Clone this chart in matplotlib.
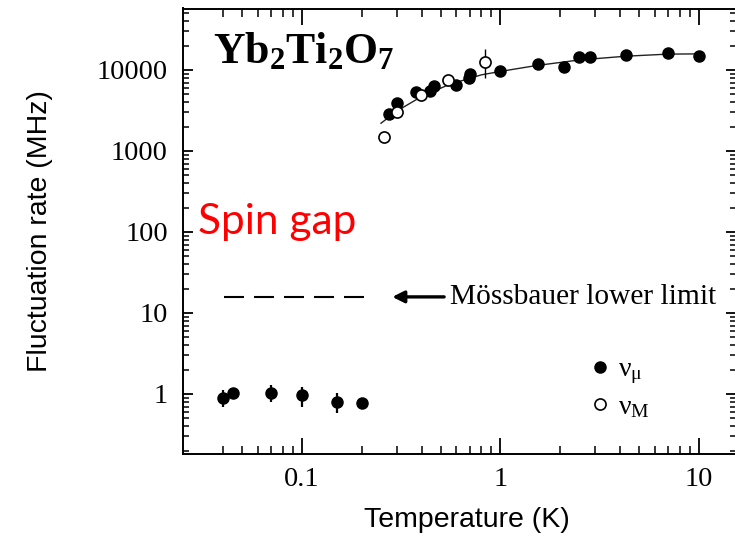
import matplotlib
matplotlib.use("Agg")
import matplotlib.pyplot as plt
from matplotlib.ticker import FixedLocator, NullFormatter
from matplotlib.lines import Line2D

plt.rcParams['mathtext.fontset'] = 'custom'
plt.rcParams['mathtext.rm'] = 'Liberation Serif'
plt.rcParams['mathtext.it'] = 'Liberation Serif:italic'
plt.rcParams['mathtext.bf'] = 'Liberation Serif:bold'

# ---- data ----
# muSR fluctuation rate nu_mu, low temperature (with error bars)
T_low = [0.040, 0.045, 0.070, 0.100, 0.150, 0.200]
nu_low = [0.885, 1.04, 1.04, 0.96, 0.79, 0.78]
nu_low_lo = [0.70, 1.04, 0.79, 0.70, 0.59, 0.78]
nu_low_hi = [1.12, 1.04, 1.29, 1.23, 1.02, 0.78]

# muSR fluctuation rate nu_mu, high temperature
T_mu = [0.273, 0.301, 0.376, 0.44, 0.46, 0.60, 0.69, 0.70, 1.0, 1.55, 2.1, 2.5, 2.81, 4.3, 6.94, 9.96]
nu_mu = [2840, 3950, 5400, 5500, 6300, 6530, 7900, 9000, 9800, 11760, 10980, 14350, 14350, 15320, 16070, 15030]

# Mossbauer fluctuation rate nu_M
T_M = [0.258, 0.300, 0.396, 0.547, 0.84]
nu_M = [1502, 3055, 4915, 7530, 12630]
nu_M_lo = [1502, 3055, 4915, 7530, 7900]
nu_M_hi = [1502, 3055, 4915, 7530, 18000]

# guide curve through the high-T data
T_fit = [0.25, 0.30, 0.40, 0.55, 0.80, 1.0, 1.5, 2.5, 4.3, 7.0, 10.0]
nu_fit = [2200, 3100, 4700, 6600, 8700, 9600, 11300, 13300, 14800, 15700, 15800]

# Mossbauer lower limit
T_limit = [0.0405, 0.205]
nu_limit = [15.8, 15.8]
T_arrow_tip, T_arrow_tail, T_limit_text = 0.285, 0.520, 0.558

x_ticks = [0.1, 1, 10]
x_ticklabels = ['0.1', '1', '10']
x_minor = [0.04, 0.05, 0.06, 0.07, 0.08, 0.09,
           0.2, 0.3, 0.4, 0.5, 0.6, 0.7, 0.8, 0.9,
           2, 3, 4, 5, 6, 7, 8, 9]
y_ticks = [1, 10, 100, 1000, 10000]
y_ticklabels = ['1', '10', '100', '1000', '10000']

# ---- figure ----
fig = plt.figure(figsize=(7.35, 5.36), dpi=100)
ax = fig.add_axes([183/735, (536-454)/536, (736-183)/735, (454-8.5)/536])
ax.set_xscale('log')
ax.set_yscale('log')
ax.set_xlim(0.02515, 15.36)
ax.set_ylim(0.1816, 57400)

ax.plot(T_fit, nu_fit, '-', color='#222222', lw=1.0, zorder=2)

ms = 8
yerr_low = [[v - l for v, l in zip(nu_low, nu_low_lo)], [h - v for v, h in zip(nu_low, nu_low_hi)]]
ax.errorbar(T_low, nu_low, yerr=yerr_low, fmt='o', color='black', ms=ms,
            elinewidth=1.6, capsize=0, zorder=3)
ax.plot(T_mu, nu_mu, 'o', color='black', ms=ms, zorder=3)
yerr_M = [[v - l for v, l in zip(nu_M, nu_M_lo)], [h - v for v, h in zip(nu_M, nu_M_hi)]]
ax.errorbar(T_M, nu_M, yerr=yerr_M, fmt='o', mfc='white', mec='black', mew=1.2,
            ecolor='black', ms=ms, elinewidth=1.0, capsize=0, zorder=4)

ax.plot(T_limit, nu_limit, color='black', lw=1.5, dashes=(9.6, 4.8))
ax.annotate('', xy=(T_arrow_tip, nu_limit[0]), xytext=(T_arrow_tail, nu_limit[0]),
            arrowprops=dict(arrowstyle='-|>,head_length=0.7,head_width=0.35',
                            lw=2.4, color='black', shrinkA=0, shrinkB=0))
ax.text(T_limit_text, nu_limit[0], 'Mössbauer lower limit', family='Liberation Serif',
        fontsize=21.2, va='center', ha='left')

ax.text(0.054, 0.905, r'$\mathbf{Yb_2Ti_2O_7}$', transform=ax.transAxes,
        fontsize=31.5, va='center', ha='left')
ax.text(0.027, 0.52, 'Spin gap', transform=ax.transAxes, color='red',
        family='Lato', fontsize=30.5, va='center', ha='left')

handles = [Line2D([], [], ls='none', marker='o', color='black', ms=ms),
           Line2D([], [], ls='none', marker='o', mfc='white', mec='black', mew=1.2, ms=ms)]
ax.legend(handles, [r'$\mathrm{\nu_{\mu}}$', r'$\mathrm{\nu_{M}}$'], loc='center left',
          bbox_to_anchor=(0.703, 0.150), frameon=False, fontsize=20,
          handlelength=1.0, handletextpad=0.15, labelspacing=0.2, borderpad=0)

ax.xaxis.set_major_locator(FixedLocator(x_ticks))
ax.set_xticklabels(x_ticklabels)
ax.xaxis.set_minor_locator(FixedLocator(x_minor))
ax.xaxis.set_minor_formatter(NullFormatter())
ax.yaxis.set_major_locator(FixedLocator(y_ticks))
ax.set_yticklabels(y_ticklabels)

ax.tick_params(axis='x', which='major', direction='in', top=True, length=11.5, width=1.3, pad=9)
ax.tick_params(axis='x', which='minor', direction='in', top=True, length=5.8, width=1.1)
ax.tick_params(axis='y', which='major', direction='in', right=True, length=7, width=1.3, pad=11)
ax.tick_params(axis='y', which='minor', direction='in', right=True, length=4.3, width=1.1)
for lab in ax.get_xticklabels() + ax.get_yticklabels():
    lab.set_family('Liberation Serif')
    lab.set_fontsize(20.5)
for s in ax.spines.values():
    s.set_linewidth(1.4)

ax.set_xlabel('Temperature (K)', family='Liberation Sans', fontsize=20.5)
ax.set_ylabel('Fluctuation rate (MHz)', family='Liberation Sans', fontsize=20.5)
ax.xaxis.set_label_coords(0.514, -0.12)
ax.yaxis.set_label_coords(-0.235, 0.5)

fig.savefig('out.png', dpi=100)
